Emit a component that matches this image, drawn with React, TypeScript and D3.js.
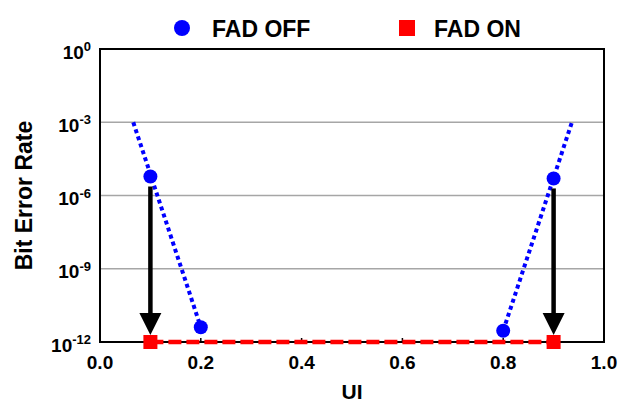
import React from 'react';
import * as d3 from 'd3';

// FAD OFF measurements (UI, bit error rate)
const fadOffUI = [0.1, 0.2, 0.8, 0.9];
const fadOffBER = [6e-6, 4e-12, 2.9e-12, 5e-6];

// FAD ON measurements
const fadOnUI = [0.1, 0.9];
const fadOnBER = [1e-12, 1e-12];

// extrapolated bathtub edges (dotted)
const fitLeftUI = [0.066, 0.2];
const fitLeftBER = [1e-3, 4e-12];
const fitRightUI = [0.8, 0.937];
const fitRightBER = [2.9e-12, 1.1e-3];

// arrows FAD OFF -> FAD ON
const arrowUI = [0.1, 0.9];
const arrowFrom = [6e-6, 5e-6];
const arrowTo = [1e-12, 1e-12];

const xTicks = [0, 0.2, 0.4, 0.6, 0.8, 1.0];
const yExponents = [0, -3, -6, -9, -12];

const W = 621;
const H = 405;
const margin = { top: 49, right: 17, bottom: 63, left: 100 };
const font = '"Liberation Sans", Arial, sans-serif';

export default function App() {
  const x = d3.scaleLinear().domain([0, 1]).range([margin.left, W - margin.right]);
  const y = d3.scaleLog().domain([1e-12, 1]).range([H - margin.bottom, margin.top]);

  const x0 = x(0), x1 = x(1), yTop = y(1), yBot = y(1e-12);

  const line = d3.line<[number, number]>()
    .x(d => x(d[0]))
    .y(d => y(d[1]));

  const fitLeft = fitLeftUI.map((u, i) => [u, fitLeftBER[i]] as [number, number]);
  const fitRight = fitRightUI.map((u, i) => [u, fitRightBER[i]] as [number, number]);
  const onLine = fadOnUI.map((u, i) => [u, fadOnBER[i]] as [number, number]);

  const r = 7;
  const sq = 14;

  return (
    <svg width={W} height={H} style={{ position: 'absolute', left: 0, top: 0, display: 'block' }}
      fontFamily={font} fontWeight="bold">
      <rect width={W} height={H} fill="#fff" />

      {/* gridlines */}
      {yExponents.filter(e => e !== 0 && e !== -12).map(e => (
        <line key={e} x1={x0} x2={x1} y1={y(Math.pow(10, e))} y2={y(Math.pow(10, e))}
          stroke="#a6a6a6" strokeWidth={1.5} />
      ))}

      {/* x ticks inside */}
      {xTicks.slice(1, -1).map(t => (
        <line key={t} x1={x(t)} x2={x(t)} y1={yBot} y2={yBot - 4} stroke="#000" strokeWidth={1.5} />
      ))}

      {/* frame */}
      <rect x={x0} y={yTop} width={x1 - x0} height={yBot - yTop} fill="none" stroke="#000" strokeWidth={2} />

      {/* y tick labels */}
      {yExponents.map(e => (
        <text key={e} x={91} y={y(Math.pow(10, e)) + 9.5} textAnchor="end" fontSize={19} fill="#000">
          <tspan>10</tspan>
          <tspan fontSize={13} dy={-7.5}>{e}</tspan>
        </text>
      ))}

      {/* x tick labels */}
      {xTicks.map(t => (
        <text key={t} x={x(t)} y={369} textAnchor="middle" fontSize={19} fill="#000">
          {d3.format('.1f')(t)}
        </text>
      ))}

      {/* axis titles */}
      <text x={x(0.5)} y={399} textAnchor="middle" fontSize={21}>UI</text>
      <text transform={`translate(32,${(yTop + yBot) / 2}) rotate(-90)`} textAnchor="middle" fontSize={23}>
        Bit Error Rate
      </text>

      {/* dotted fits */}
      <path d={line(fitLeft) || ''} fill="none" stroke="#0000ff" strokeWidth={4} strokeDasharray="4 3.4" />
      <path d={line(fitRight) || ''} fill="none" stroke="#0000ff" strokeWidth={4} strokeDasharray="4 3.4" />

      {/* FAD ON dashed */}
      <path d={line(onLine) || ''} fill="none" stroke="#ff0000" strokeWidth={4.5} strokeDasharray="13 5" />

      {/* FAD OFF points */}
      {fadOffUI.map((u, i) => (
        <circle key={i} cx={x(u)} cy={y(fadOffBER[i])} r={r} fill="#0000ff" />
      ))}

      {/* arrows */}
      {arrowUI.map((u, i) => {
        const ax = x(u);
        const ys = y(arrowFrom[i]) + r + 3;
        const tip = y(arrowTo[i]) - sq / 2;
        const headH = 22;
        return (
          <g key={i}>
            <line x1={ax} x2={ax} y1={ys} y2={tip - headH + 1} stroke="#000" strokeWidth={4.5} />
            <path d={`M${ax - 11},${tip - headH} L${ax + 11},${tip - headH} L${ax},${tip} Z`} fill="#000" />
          </g>
        );
      })}

      {/* FAD ON points */}
      {fadOnUI.map((u, i) => (
        <rect key={i} x={x(u) - sq / 2} y={y(fadOnBER[i]) - sq / 2} width={sq} height={sq} fill="#ff0000" />
      ))}

      {/* legend */}
      <circle cx={182} cy={28} r={8} fill="#0000ff" />
      <text x={212} y={37} fontSize={23}>FAD OFF</text>
      <rect x={399} y={20} width={16} height={16} fill="#ff0000" />
      <text x={434} y={37} fontSize={23}>FAD ON</text>
    </svg>
  );
}
